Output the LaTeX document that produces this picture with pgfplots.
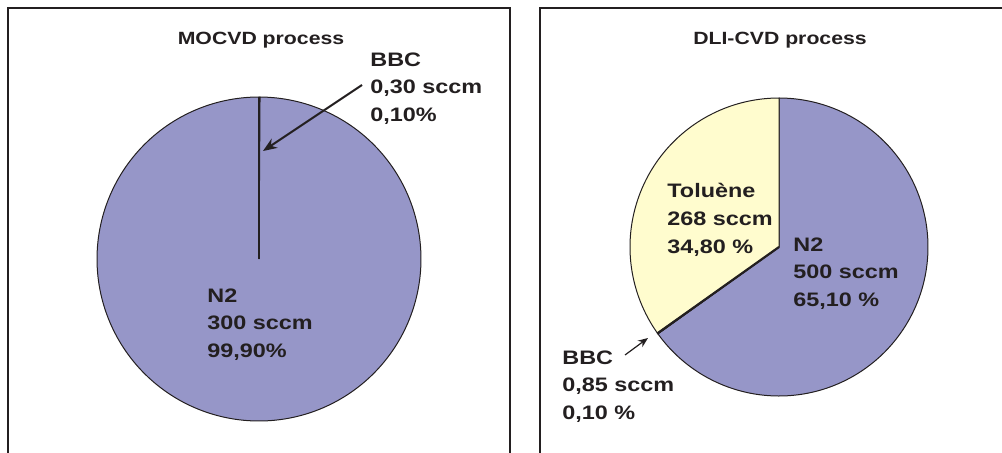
\documentclass[border=0pt]{standalone}
\usepackage{pgfplots}
\pgfplotsset{compat=1.18}
\usepackage{fontspec}
\setmainfont{Liberation Sans}[FakeStretch=1.2]
\usetikzlibrary{arrows.meta}

\definecolor{nitro}{RGB}{150,150,200}
\definecolor{tolu}{RGB}{255,252,206}
\definecolor{ink}{RGB}{35,31,32}

% 1 unit = 1 px of the reference (0.5pt), pies start at the top and run clockwise
\pgfplotsset{
  piebox/.style={
    scale only axis,
    x=0.5pt, y=0.5pt,
    axis line style={line width=1pt, ink},
    xtick=\empty, ytick=\empty,
    anchor=origin,
  },
  slice/.style={draw=ink, line width=0.5pt, samples=#1},
  slice/.default=120,
}
\tikzset{
  lbl/.style={font=\fontsize{9.75pt}{13.9pt}\selectfont\bfseries, text=ink,
    anchor=north west, align=left, inner sep=0pt},
  ttl/.style={font=\fontsize{8.85pt}{10pt}\selectfont\bfseries, text=ink},
}

\begin{document}
\begin{tikzpicture}
\path[use as bounding box] (0,0) rectangle (501pt,226pt);
\clip (0,0) rectangle (501pt,226pt);

% ---- MOCVD: N2 99.90 %, BBC 0.10 %
\begin{axis}[piebox, at={(129.5pt,96.5pt)},
  xmin=-251, xmax=251, ymin=-211, ymax=251]
  \addplot[slice=3, fill=ink, domain={90-3.6*0.10}:90]
    ({162*cos(x)},{162*sin(x)}) -- (axis cs:0,0) -- cycle;
  \addplot[slice=240, fill=nitro, domain={90-3.6*0.10-3.6*99.90}:{90-3.6*0.10}]
    ({162*cos(x)},{162*sin(x)}) -- (axis cs:0,0) -- cycle;
  \draw[ink, line width=0.8pt] (axis cs:0,0) -- (axis cs:0,162);
  \node[ttl] at (axis cs:2,219) {MOCVD process};
  \node[lbl] at (axis cs:111,207) {BBC\\0,30 sccm\\0,10\%};
  \node[lbl] at (axis cs:-52,-29) {N2\\300 sccm\\99,90\%};
  \draw[ink, line width=1pt, -{Stealth[length=7pt,width=5.5pt]}]
    (axis cs:103,174) -- (axis cs:4,108);
\end{axis}

% ---- DLI-CVD: N2 65.10 %, BBC 0.10 %, Toluene 34.80 %
\begin{axis}[piebox, at={(389.5pt,102.5pt)},
  xmin=-239, xmax=241, ymin=-223, ymax=239]
  \addplot[slice=200, fill=nitro, domain={90-3.6*65.10}:90]
    ({149*cos(x)},{149*sin(x)}) -- (axis cs:0,0) -- cycle;
  \addplot[slice=3, fill=ink, domain={90-3.6*65.20}:{90-3.6*65.10}]
    ({149*cos(x)},{149*sin(x)}) -- (axis cs:0,0) -- cycle;
  \addplot[slice=120, fill=tolu, domain={90-3.6*100}:{90-3.6*65.20}]
    ({149*cos(x)},{149*sin(x)}) -- (axis cs:0,0) -- cycle;
  \draw[ink, line width=1.1pt] (axis cs:0,0) -- (axis cs:-121.5,-86.3);
  \node[ttl] at (axis cs:1,207) {DLI-CVD process};
  \node[lbl] at (axis cs:-112,64) {Toluène\\268 sccm\\34,80 \%};
  \node[lbl] at (axis cs:14,10) {N2\\500 sccm\\65,10 \%};
  \node[lbl] at (axis cs:-217,-103) {BBC\\0,85 sccm\\0,10 \%};
  \draw[ink, line width=0.6pt, -{Stealth[length=5pt,width=4pt]}]
    (axis cs:-154,-108) -- (axis cs:-131,-91);
\end{axis}
\end{tikzpicture}
\end{document}
